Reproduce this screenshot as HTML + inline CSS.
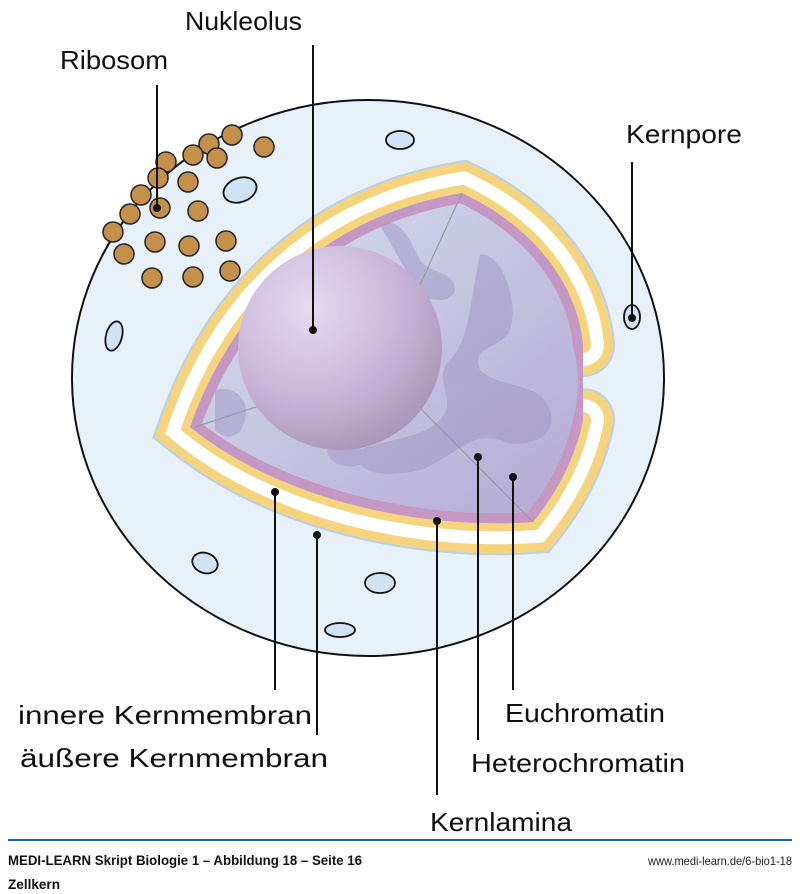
<!DOCTYPE html>
<html><head><meta charset="utf-8"><style>
html,body{margin:0;padding:0;background:#fff;}
svg{display:block;font-family:"Liberation Sans",sans-serif;}
</style></head><body>
<svg width="800" height="894" viewBox="0 0 800 894" xmlns="http://www.w3.org/2000/svg">
<defs>
<radialGradient id="nuc" cx="0.35" cy="0.3" r="0.75">
<stop offset="0" stop-color="#e4dcee"/><stop offset="0.6" stop-color="#c9b5d9"/><stop offset="1" stop-color="#a896b8"/>
</radialGradient>
<linearGradient id="inner" x1="0" y1="0" x2="1" y2="1">
<stop offset="0" stop-color="#d8e0f0"/><stop offset="1" stop-color="#b2a8d4"/>
</linearGradient>
<clipPath id="qc"><path d="M190,427 C235,300 330,215 462,193 C540,230 578,290 583,345 L583,420 C575,460 555,495 533,522 C420,530 280,500 190,427 Z"/></clipPath>
</defs>
<ellipse cx="368" cy="378" rx="296" ry="278" fill="#e8f1fa" stroke="#111" stroke-width="2"/>
<g fill="none" stroke-linecap="round" stroke-linejoin="miter">
<path id="E" d="M583,345 C578,290 540,230 462,193 C330,215 235,300 190,427 C280,500 420,530 533,522 C555,495 575,460 583,420" stroke="#b9d0ea" stroke-width="64"/>
<path d="M583,345 C578,290 540,230 462,193 C330,215 235,300 190,427 C280,500 420,530 533,522 C555,495 575,460 583,420" stroke="#f5d47e" stroke-width="60"/>
<path d="M583,345 C578,290 540,230 462,193 C330,215 235,300 190,427 C280,500 420,530 533,522 C555,495 575,460 583,420" stroke="#ffffff" stroke-width="42"/>
<path d="M583,345 C578,290 540,230 462,193 C330,215 235,300 190,427 C280,500 420,530 533,522 C555,495 575,460 583,420" stroke="#f5d47e" stroke-width="16"/>
</g>
<path d="M190,427 C235,300 330,215 462,193 C540,230 578,290 583,345 L583,420 C575,460 555,495 533,522 C420,530 280,500 190,427 Z" fill="url(#inner)"/>
<g clip-path="url(#qc)">
<path d="M190,427 C235,300 330,215 462,193 C540,230 578,290 583,345 C590,370 590,395 583,420 C575,460 555,495 533,522 C420,530 280,500 190,427 Z" fill="none" stroke="#c597c4" stroke-width="20"/>
<g fill="#9f95c6" opacity="0.5">
<path d="M480,255 C500,250 520,300 510,330 C500,350 470,345 480,370 C500,390 540,380 550,410 C560,440 520,450 500,440 C470,430 450,460 420,470 C380,480 350,470 360,450 C380,440 420,440 440,420 C460,400 430,380 450,360 C470,340 470,300 480,255 Z"/>
<path d="M380,225 C400,215 410,240 420,260 C430,275 455,270 455,290 C450,305 430,300 420,295 Z"/>
<path d="M215,390 C235,385 250,400 245,420 C240,440 225,440 215,430 Z"/>
<path d="M330,440 C350,430 370,450 360,465 C340,470 320,460 330,440 Z"/>
</g>
</g>
<line x1="462" y1="193" x2="420" y2="285" stroke="#999" stroke-width="1.2"/>
<line x1="195" y1="427" x2="262" y2="405" stroke="#999" stroke-width="1.2"/>
<line x1="420" y1="408" x2="533" y2="522" stroke="#999" stroke-width="1.2"/>
<circle cx="340" cy="348" r="102" fill="url(#nuc)"/>
<g fill="#c4914a" stroke="#222" stroke-width="1.5">
<circle cx="232" cy="135" r="10"/><circle cx="264" cy="147" r="10"/><circle cx="209" cy="144" r="10"/>
<circle cx="193" cy="155" r="10"/><circle cx="217" cy="158" r="10"/><circle cx="166" cy="162" r="10"/>
<circle cx="158" cy="178" r="10"/><circle cx="188" cy="182" r="10"/><circle cx="141" cy="195" r="10"/>
<circle cx="160" cy="208" r="10"/><circle cx="198" cy="211" r="10"/><circle cx="130" cy="214" r="10"/>
<circle cx="113" cy="232" r="10"/><circle cx="155" cy="242" r="10"/><circle cx="189" cy="246" r="10"/>
<circle cx="226" cy="241" r="10"/><circle cx="124" cy="254" r="10"/><circle cx="152" cy="278" r="10"/>
<circle cx="193" cy="277" r="10"/><circle cx="230" cy="271" r="10"/>
</g>
<g fill="#cfe3f5" stroke="#111" stroke-width="1.8">
<ellipse cx="240" cy="190" rx="17" ry="12" transform="rotate(-20 240 190)"/>
<ellipse cx="400" cy="140" rx="14" ry="9"/>
<ellipse cx="632" cy="317" rx="8" ry="12"/>
<ellipse cx="114" cy="336" rx="8" ry="15" transform="rotate(15 114 336)"/>
<ellipse cx="205" cy="563" rx="13" ry="10" transform="rotate(20 205 563)"/>
<ellipse cx="380" cy="583" rx="15" ry="10"/>
<ellipse cx="340" cy="630" rx="15" ry="7"/>
</g>
<g stroke="#111" stroke-width="2" fill="#111">
<line x1="313" y1="45" x2="313" y2="330"/><circle cx="313" cy="330" r="3"/>
<line x1="157" y1="85" x2="157" y2="208"/><circle cx="157" cy="208" r="3"/>
<line x1="632" y1="162" x2="632" y2="318"/><circle cx="632" cy="318" r="3"/>
<line x1="275" y1="492" x2="275" y2="690"/><circle cx="275" cy="492" r="3"/>
<line x1="317" y1="535" x2="317" y2="735"/><circle cx="317" cy="535" r="3"/>
<line x1="513" y1="477" x2="513" y2="690"/><circle cx="513" cy="477" r="3"/>
<line x1="478" y1="457" x2="478" y2="740"/><circle cx="478" cy="457" r="3"/>
<line x1="437" y1="521" x2="437" y2="795"/><circle cx="437" cy="521" r="3"/>
</g>
<g font-size="26" fill="#111">
<text x="185" y="30" textLength="117" lengthAdjust="spacingAndGlyphs">Nukleolus</text>
<text x="60" y="69" textLength="108" lengthAdjust="spacingAndGlyphs">Ribosom</text>
<text x="626" y="143" textLength="116" lengthAdjust="spacingAndGlyphs">Kernpore</text>
<text x="18" y="724" textLength="294" lengthAdjust="spacingAndGlyphs">innere Kernmembran</text>
<text x="20" y="767" textLength="308" lengthAdjust="spacingAndGlyphs">äußere Kernmembran</text>
<text x="505" y="722" textLength="160" lengthAdjust="spacingAndGlyphs">Euchromatin</text>
<text x="471" y="772" textLength="214" lengthAdjust="spacingAndGlyphs">Heterochromatin</text>
<text x="430" y="831" textLength="142" lengthAdjust="spacingAndGlyphs">Kernlamina</text>
</g>
<line x1="8" y1="840" x2="792" y2="840" stroke="#1a5fb4" stroke-width="2"/>
<text x="8" y="865" font-size="14" font-weight="bold" fill="#111" textLength="354" lengthAdjust="spacingAndGlyphs">MEDI-LEARN Skript Biologie 1 – Abbildung 18 – Seite 16</text>
<text x="792" y="865" font-size="12" fill="#222" text-anchor="end" textLength="144" lengthAdjust="spacingAndGlyphs">www.medi-learn.de/6-bio1-18</text>
<text x="8" y="889" font-size="14" font-weight="bold" fill="#111" textLength="52" lengthAdjust="spacingAndGlyphs">Zellkern</text>
</svg>
</body></html>
